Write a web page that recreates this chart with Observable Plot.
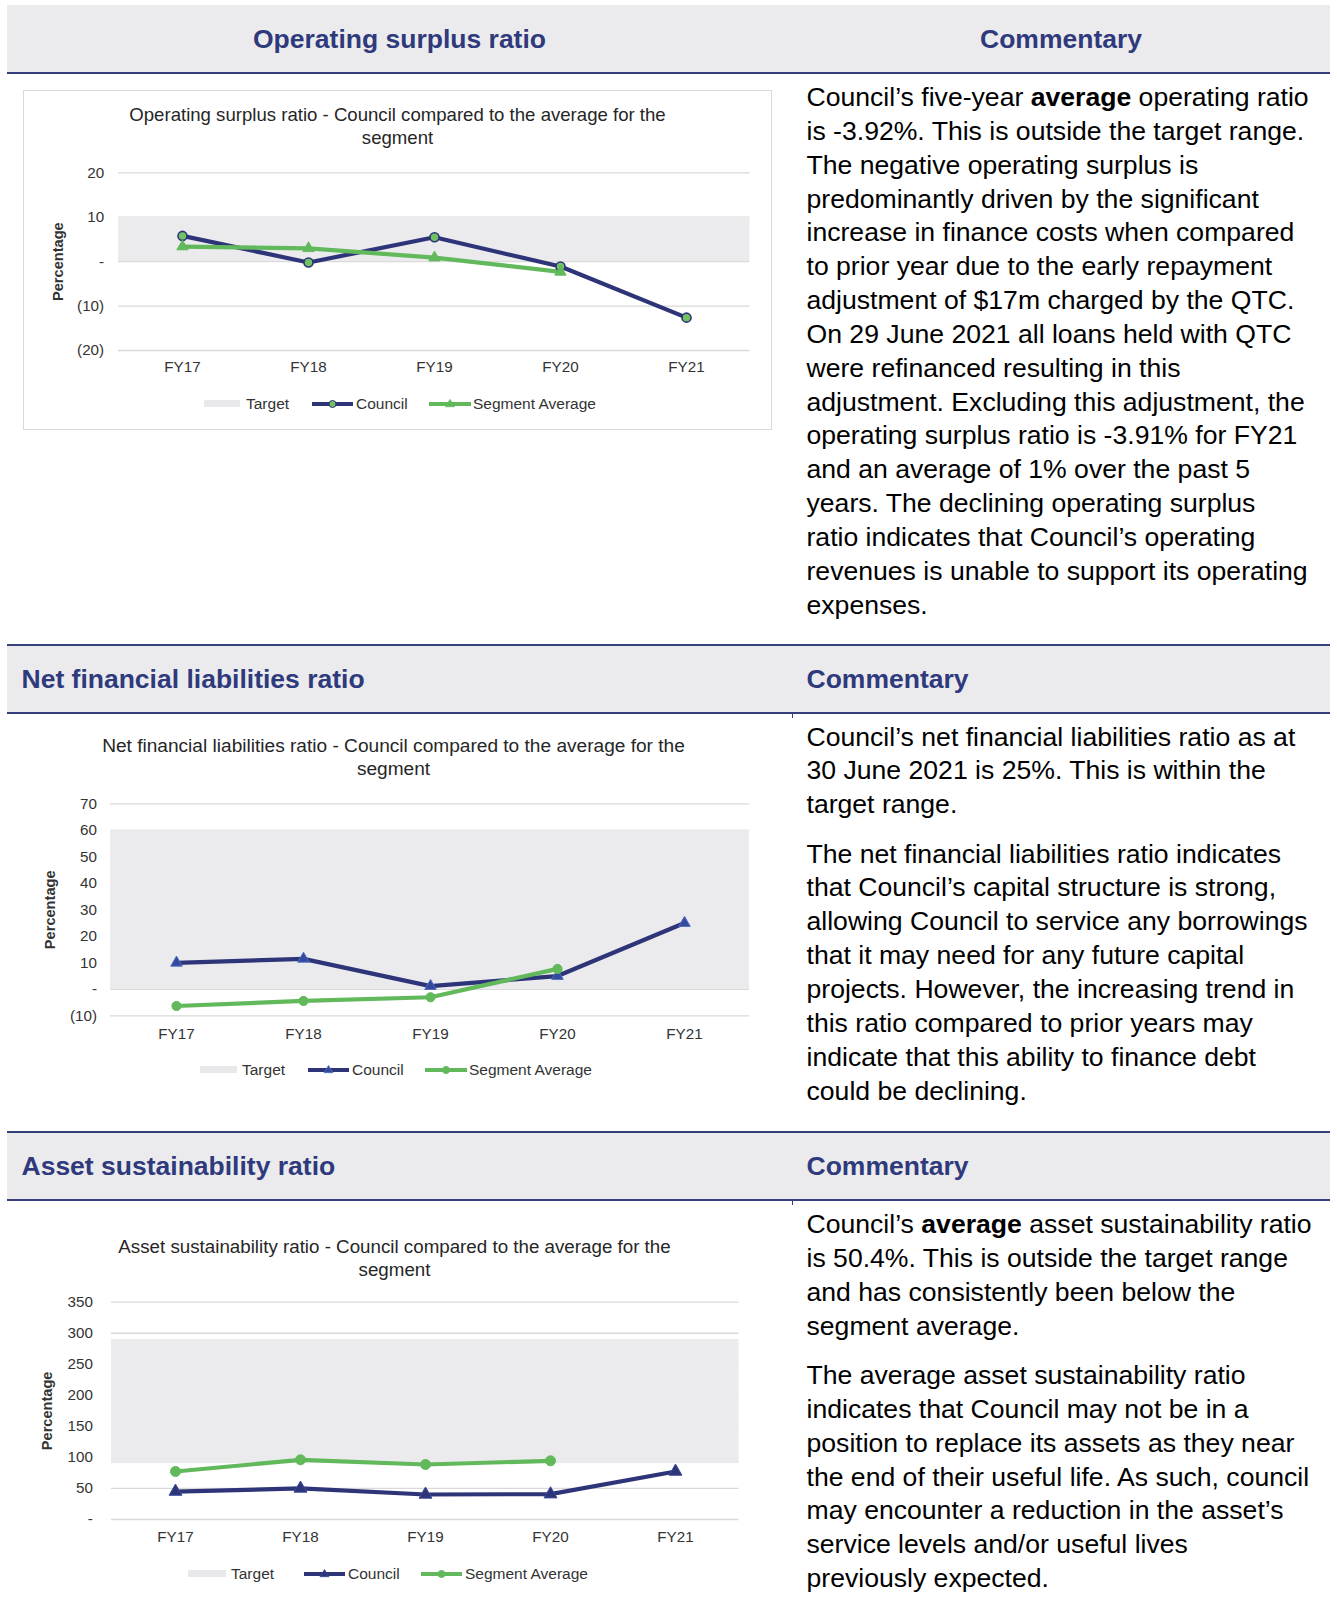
<!DOCTYPE html>
<html>
<head>
<meta charset="utf-8">
<script src="https://cdn.jsdelivr.net/npm/d3@7"></script>
<script src="https://cdn.jsdelivr.net/npm/@observablehq/plot@0.6"></script>
<style>
html,body{margin:0;padding:0;background:#fff;overflow:hidden;}
body{font-family:"Liberation Sans",Arial,Helvetica,sans-serif;}
#page{position:relative;width:1337px;height:1609px;overflow:hidden;background:#fff;}
.band{position:absolute;left:7px;width:1323px;background:#ebebee;}
.rule{position:absolute;left:7px;width:1323px;height:2px;background:#363f7b;}
.htxt{position:absolute;font-weight:bold;font-size:26.5px;color:#2f3a7c;white-space:nowrap;}
.comm{position:absolute;left:806.5px;font-size:26.6px;line-height:33.85px;color:#000;white-space:nowrap;}
.comm p{margin:0 0 15.6px 0;}
.ctitle{position:absolute;text-align:center;color:#262626;white-space:nowrap;line-height:22.5px;}
.leg{position:absolute;font-size:15.5px;line-height:18px;color:#333;white-space:nowrap;}
.legsw{position:absolute;}
</style>
</head>
<body>
<div id="page"></div>
<script>
// ---------- data ----------
const years = ["FY17", "FY18", "FY19", "FY20", "FY21"];

const opCouncil = [5.8, -0.2, 5.5, -1.1, -12.6];
const opSegment = [3.4, 3.0, 0.9, -2.3];
const opTarget = [0, 10];
const opTicks = [-20, -10, 0, 10, 20];

const nflCouncil = [10, 11.5, 1.2, 5, 25];
const nflSegment = [-6.3, -4.4, -3.0, 7.7];
const nflTarget = [0, 60];
const nflTicks = [-10, 0, 10, 20, 30, 40, 50, 60, 70];

const asCouncil = [45, 50, 40.3, 40.8, 77.3];
const asSegment = [77.3, 96.1, 88.6, 94.5];
const asTarget = [90, 290];
const asTicks = [0, 50, 100, 150, 200, 250, 300, 350];

const legendLabels = ["Target", "Council", "Segment Average"];
const yLabel = "Percentage";

const headers = [
  ["Operating surplus ratio", "Commentary"],
  ["Net financial liabilities ratio", "Commentary"],
  ["Asset sustainability ratio", "Commentary"]
];
const chartTitles = [
  ["Operating surplus ratio - Council compared to the average for the", "segment"],
  ["Net financial liabilities ratio - Council compared to the average for the", "segment"],
  ["Asset sustainability ratio - Council compared to the average for the", "segment"]
];
const comm1 = [[
  "Council’s five-year **average** operating ratio",
  "is -3.92%. This is outside the target range.",
  "The negative operating surplus is",
  "predominantly driven by the significant",
  "increase in finance costs when compared",
  "to prior year due to the early repayment",
  "adjustment of $17m charged by the QTC.",
  "On 29 June 2021 all loans held with QTC",
  "were refinanced resulting in this",
  "adjustment. Excluding this adjustment, the",
  "operating surplus ratio is -3.91% for FY21",
  "and an average of 1% over the past 5",
  "years. The declining operating surplus",
  "ratio indicates that Council’s operating",
  "revenues is unable to support its operating",
  "expenses."
]];
const comm2 = [[
  "Council’s net financial liabilities ratio as at",
  "30 June 2021 is 25%. This is within the",
  "target range."
], [
  "The net financial liabilities ratio indicates",
  "that Council’s capital structure is strong,",
  "allowing Council to service any borrowings",
  "that it may need for any future capital",
  "projects. However, the increasing trend in",
  "this ratio compared to prior years may",
  "indicate that this ability to finance debt",
  "could be declining."
]];
const comm3 = [[
  "Council’s **average** asset sustainability ratio",
  "is 50.4%. This is outside the target range",
  "and has consistently been below the",
  "segment average."
], [
  "The average asset sustainability ratio",
  "indicates that Council may not be in a",
  "position to replace its assets as they near",
  "the end of their useful life. As such, council",
  "may encounter a reduction in the asset’s",
  "service levels and/or useful lives",
  "previously expected."
]];

// ---------- styles ----------
const FONT = '"Liberation Sans", Arial, Helvetica, sans-serif';
const NAVY = "#2e3478";
const GREEN = "#62b95b";
const BANDFILL = "#ebebee";
const GRID = "#d9d9d9";
const TXT = "#333333";

const page = document.getElementById("page");
function el(tag, cls, css, html) {
  const e = document.createElement(tag);
  if (cls) e.className = cls;
  if (css) Object.assign(e.style, css);
  if (html != null) e.innerHTML = html;
  page.appendChild(e);
  return e;
}
const esc = s => s.replace(/&/g, "&amp;").replace(/</g, "&lt;");
const md = s => esc(s).replace(/\*\*(.+?)\*\*/g, "<b>$1</b>");

// ---------- table headers ----------
el("div", "band", {top: "5px", height: "67px"});
el("div", "rule", {top: "72px"});
el("div", "htxt", {left: "7px", width: "785px", top: "5.5px", height: "67px", lineHeight: "67px", textAlign: "center"}, esc(headers[0][0]));
el("div", "htxt", {left: "792px", width: "538px", top: "5.5px", height: "67px", lineHeight: "67px", textAlign: "center"}, esc(headers[0][1]));
[[644, 1], [1131, 2]].forEach(([t, k]) => {
  el("div", "rule", {top: t + "px"});
  el("div", "band", {top: (t + 2) + "px", height: "66px"});
  el("div", "rule", {top: (t + 68) + "px"});
  el("div", "", {position: "absolute", left: "792px", top: (t + 70) + "px", width: "1px", height: "4px", background: "#363f7b"});
  el("div", "htxt", {left: "21.5px", top: (t + 1.5) + "px", height: "66px", lineHeight: "66px"}, esc(headers[k][0]));
  el("div", "htxt", {left: "806.5px", top: (t + 1.5) + "px", height: "66px", lineHeight: "66px"}, esc(headers[k][1]));
});

// ---------- commentary ----------
function commentary(paras, top) {
  el("div", "comm", {top: top + "px"}, paras.map(p => "<p>" + p.map(md).join("<br>") + "</p>").join(""));
}
commentary(comm1, 81);
commentary(comm2, 720.5);
commentary(comm3, 1208);

// chart 1 frame box
el("div", "", {position: "absolute", left: "23px", top: "90px", width: "749px", height: "340px", border: "1px solid #d9d9d9", boxSizing: "border-box"});

// ---------- charts ----------
const fmt = d => d === 0 ? "-" : d < 0 ? "(" + Math.abs(d) + ")" : String(d);

function drawChart(cfg) {
  const council = cfg.council.map((v, i) => ({year: years[i], v}));
  const segment = cfg.segment.map((v, i) => ({year: years[i], v}));
  const f = cfg.frame;
  const plot = Plot.plot({
    width: cfg.w,
    height: cfg.h,
    marginLeft: f.x1 - cfg.left,
    marginRight: cfg.left + cfg.w - f.x2,
    marginTop: f.yTop - cfg.top,
    marginBottom: cfg.top + cfg.h - f.yBottom,
    x: {type: "point", domain: years, padding: 0.5},
    y: {domain: [cfg.ticks[0], cfg.ticks[cfg.ticks.length - 1]]},
    style: {fontFamily: FONT, fontSize: "15.2px", color: TXT, background: "transparent", overflow: "visible"},
    marks: [
      Plot.ruleY(cfg.ticks, {stroke: GRID, strokeWidth: 1.3}),
      Plot.rect([cfg.target], {y1: d => d[0], y2: d => d[1], fill: BANDFILL}),
      Plot.axisY({ticks: cfg.ticks, tickFormat: fmt, tickSize: 0, tickPadding: cfg.yPad, label: null}),
      Plot.axisX({tickSize: 0, tickPadding: cfg.xPad, label: null}),
      Plot.text([yLabel], {text: d => d, frameAnchor: "left", rotate: -90, textAnchor: "middle", lineAnchor: "middle", dx: cfg.labelDx, fontWeight: "bold", fontSize: 14.6, fill: TXT}),
      Plot.line(council, {x: "year", y: "v", stroke: NAVY, strokeWidth: 4.2, strokeLinejoin: "round", strokeLinecap: "round"}),
      Plot.line(segment, {x: "year", y: "v", stroke: GREEN, strokeWidth: 4.2, strokeLinejoin: "round", strokeLinecap: "round"}),
      Plot.dot(council, {x: "year", y: "v", ...cfg.cMark}),
      Plot.dot(segment, {x: "year", y: "v", ...cfg.sMark})
    ]
  });
  Object.assign(plot.style, {position: "absolute", left: cfg.left + "px", top: cfg.top + "px"});
  page.appendChild(plot);

  el("div", "ctitle", {left: (cfg.titleX - 400) + "px", width: "800px", top: cfg.titleTop + "px", fontSize: cfg.titleSize + "px"},
    chartTitles[cfg.idx].map(esc).join("<br>"));

  const L = cfg.legend;
  const y = L.y;
  el("div", "legsw", {left: L.t[0] + "px", top: (y - 3.5) + "px", width: (L.t[1] - L.t[0]) + "px", height: "7px", background: "#e9e9ec"});
  el("div", "leg", {left: L.t[2] + "px", top: (y - 9) + "px"}, legendLabels[0]);
  const sw = (x0, x1, color, mark) => {
    const w = x1 - x0;
    let m = "";
    if (mark.symbol === "circle") m = `<circle cx="${w / 2}" cy="7" r="${Math.min(mark.r, 3.5)}" fill="${mark.fill}" stroke="${mark.stroke}" stroke-width="1"/>`;
    else { const s = 4.5; m = `<path d="M${w / 2},${7 - s} L${w / 2 + s},${7 + s * 0.6} L${w / 2 - s},${7 + s * 0.6}Z" fill="${mark.fill}" stroke="${mark.stroke}" stroke-width="0.8"/>`; }
    return `<svg width="${w}" height="14" style="display:block"><line x1="0" x2="${w}" y1="7" y2="7" stroke="${color}" stroke-width="4"/>${m}</svg>`;
  };
  el("div", "legsw", {left: L.c[0] + "px", top: (y - 7) + "px"}, sw(L.c[0], L.c[1], NAVY, cfg.cMark));
  el("div", "leg", {left: L.c[2] + "px", top: (y - 9) + "px"}, legendLabels[1]);
  el("div", "legsw", {left: L.s[0] + "px", top: (y - 7) + "px"}, sw(L.s[0], L.s[1], GREEN, cfg.sMark));
  el("div", "leg", {left: L.s[2] + "px", top: (y - 9) + "px"}, legendLabels[2]);
}

drawChart({
  idx: 0, council: opCouncil, segment: opSegment, target: opTarget, ticks: opTicks,
  left: 24, top: 150, w: 746, h: 240,
  frame: {x1: 118, x2: 749.5, yTop: 172.3, yBottom: 350},
  yPad: 14.4, xPad: 10.8, labelDx: -60.5,
  cMark: {symbol: "circle", r: 4.5, fill: "#72c162", stroke: NAVY, strokeWidth: 1.6},
  sMark: {symbol: "triangle", r: 4.2, fill: GREEN, stroke: GREEN, strokeWidth: 1},
  titleX: 397.5, titleTop: 104, titleSize: 18.6,
  legend: {y: 403.5, t: [204, 240, 246], c: [312, 353, 356], s: [429, 471, 473]}
});

drawChart({
  idx: 1, council: nflCouncil, segment: nflSegment, target: nflTarget, ticks: nflTicks,
  left: 20, top: 790, w: 740, h: 250,
  frame: {x1: 110, x2: 749, yTop: 803.3, yBottom: 1015.3},
  yPad: 13.5, xPad: 12.3, labelDx: -60,
  cMark: {symbol: "triangle", r: 4.3, fill: "#34499b", stroke: "#4c6fc0", strokeWidth: 1},
  sMark: {symbol: "circle", r: 4.6, fill: GREEN, stroke: GREEN, strokeWidth: 1},
  titleX: 393.5, titleTop: 735, titleSize: 19.1,
  legend: {y: 1069.5, t: [200, 237, 242], c: [308, 349, 352], s: [425, 467, 469]}
});

drawChart({
  idx: 2, council: asCouncil, segment: asSegment, target: asTarget, ticks: asTicks,
  left: 20, top: 1290, w: 730, h: 260,
  frame: {x1: 111, x2: 738.5, yTop: 1301.7, yBottom: 1519},
  yPad: 18.6, xPad: 11.6, labelDx: -64,
  cMark: {symbol: "triangle", r: 4.8, fill: NAVY, stroke: "#3b4a99", strokeWidth: 1},
  sMark: {symbol: "circle", r: 5, fill: GREEN, stroke: GREEN, strokeWidth: 1},
  titleX: 394.5, titleTop: 1236, titleSize: 18.75,
  legend: {y: 1573.5, t: [188, 226, 231], c: [304, 345, 348], s: [421, 462, 465]}
});
</script>
</body>
</html>
